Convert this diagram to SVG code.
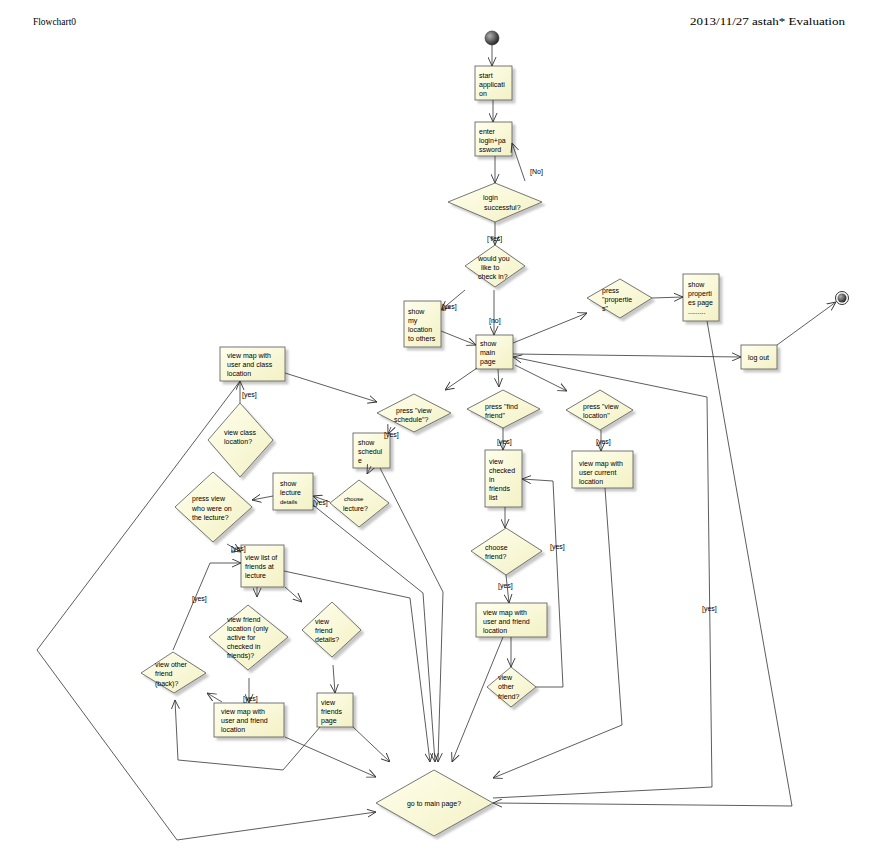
<svg xmlns="http://www.w3.org/2000/svg" width="882" height="865" viewBox="0 0 882 865">
<defs>
<linearGradient id="g" x1="0" y1="0" x2="1" y2="1">
<stop offset="0" stop-color="#ffffee"/>
<stop offset="1" stop-color="#f3f1c4"/>
</linearGradient>
<radialGradient id="sg" cx="0.35" cy="0.35" r="0.7">
<stop offset="0" stop-color="#b0b0b0"/>
<stop offset="1" stop-color="#202020"/>
</radialGradient>
<filter id="sh" x="-20%" y="-20%" width="150%" height="150%">
<feDropShadow dx="3" dy="3" stdDeviation="1" flood-color="#000" flood-opacity="0.22"/>
</filter>
<marker id="a" viewBox="0 0 10 10" refX="10" refY="5" markerWidth="9" markerHeight="9" markerUnits="userSpaceOnUse" orient="auto">
<path d="M0,0.5 L10,5 L0,9.5" fill="none" stroke="#333" stroke-width="1"/>
</marker>
</defs>
<style>
.n rect, .n polygon { fill: url(#g); stroke: #555; stroke-width: 0.8; filter: url(#sh); }
.t { font-family: "Liberation Sans", Arial, sans-serif; font-size: 7px; fill: #000; }
.s { font-size: 6px; }
.c path { fill: none; stroke: #333; stroke-width: 0.8; marker-end: url(#a); }
.h { font-family: "Liberation Serif", "Times New Roman", serif; font-size: 11px; fill: #000; }
</style>
<rect width="882" height="865" fill="#fff"/>
<text class="h" x="33" y="25" textLength="43" lengthAdjust="spacingAndGlyphs">Flowchart0</text>
<text class="h" x="690" y="25" textLength="155" lengthAdjust="spacingAndGlyphs">2013/11/27  astah* Evaluation</text>

<g id="start"><circle cx="492" cy="38" r="7" fill="url(#sg)" stroke="#333" stroke-width="0.6"/></g>
<g id="end"><circle cx="842" cy="298" r="6.5" fill="#fff" stroke="#333" stroke-width="1"/><circle cx="842" cy="298" r="4.5" fill="url(#sg)"/></g>

<g id="start-application" class="n"><rect x="475" y="66" width="37" height="34"/>
<text class="t" x="479" y="78">start</text><text class="t" x="479" y="87">applicati</text><text class="t" x="479" y="96">on</text></g>
<g id="enter-login" class="n"><rect x="475" y="122" width="37" height="34"/>
<text class="t" x="479" y="134">enter</text><text class="t" x="479" y="143">login+pa</text><text class="t" x="479" y="152">ssword</text></g>
<g id="login-successful" class="n"><polygon points="448,202 495,183 542,202 495,222"/>
<text class="t" x="483" y="200">login</text><text class="t" x="484" y="210">successful?</text></g>
<g id="check-in" class="n"><polygon points="465,266 495,245 525,266 495,287"/>
<text class="t" x="478" y="261">would you</text><text class="t" x="481" y="270">like to</text><text class="t" x="478" y="279">check in?</text></g>
<g id="show-my-location" class="n"><rect x="404" y="301" width="37" height="46"/>
<text class="t" x="408" y="314">show</text><text class="t" x="408" y="323">my</text><text class="t" x="408" y="332">location</text><text class="t" x="408" y="341">to others</text></g>
<g id="show-main-page" class="n"><rect x="476" y="335" width="37" height="34"/>
<text class="t" x="480" y="346">show</text><text class="t" x="480" y="355">main</text><text class="t" x="480" y="364">page</text></g>
<g id="press-properties" class="n"><polygon points="587,298 620,279 652,298 620,318"/>
<text class="t" x="602" y="293">press</text><text class="t" x="602" y="302">"propertie</text><text class="t" x="602" y="311">s"</text></g>
<g id="show-properties-page" class="n"><rect x="683" y="274" width="36" height="47"/>
<text class="t" x="688" y="287">show</text><text class="t" x="688" y="296">properti</text><text class="t" x="688" y="305">es page</text><text class="t" x="688" y="314">.........</text></g>
<g id="log-out" class="n"><rect x="741" y="345" width="36" height="24"/>
<text class="t" x="748" y="360">log out</text></g>
<g id="press-view-schedule" class="n"><polygon points="377,413 414,394 451,413 414,432"/>
<text class="t" x="396" y="413">press "view</text><text class="t" x="394" y="422">schedule"?</text></g>
<g id="press-find-friend" class="n"><polygon points="467,409 503,390 540,409 503,428"/>
<text class="t" x="485" y="409">press "find</text><text class="t" x="485" y="418">friend"</text></g>
<g id="press-view-location" class="n"><polygon points="566,410 600,390 633,410 600,430"/>
<text class="t" x="583" y="409">press "view</text><text class="t" x="583" y="418">location"</text></g>
<g id="view-map-current" class="n"><rect x="572" y="451" width="61" height="37"/>
<text class="t" x="579" y="466">view map with</text><text class="t" x="579" y="475">user current</text><text class="t" x="579" y="484">location</text></g>
<g id="view-checked-in" class="n"><rect x="485" y="450" width="37" height="57"/>
<text class="t" x="489" y="464">view</text><text class="t" x="489" y="473">checked</text><text class="t" x="489" y="482">in</text><text class="t" x="489" y="491">friends</text><text class="t" x="489" y="500">list</text></g>
<g id="choose-friend" class="n"><polygon points="471,551 506,528 542,551 506,575"/>
<text class="t" x="485" y="550">choose</text><text class="t" x="485" y="559">friend?</text></g>
<g id="view-map-friend-center" class="n"><rect x="476" y="603" width="71" height="34"/>
<text class="t" x="483" y="615">view map with</text><text class="t" x="483" y="624">user and friend</text><text class="t" x="483" y="633">location</text></g>
<g id="view-other-friend" class="n"><polygon points="487,687 511,667 536,687 511,707"/>
<text class="t" x="498" y="680">view</text><text class="t" x="498" y="689">other</text><text class="t" x="498" y="699">friend?</text></g>
<g id="view-map-class" class="n"><rect x="220" y="347" width="65" height="34"/>
<text class="t" x="227" y="358">view map with</text><text class="t" x="227" y="367">user and class</text><text class="t" x="227" y="376">location</text></g>
<g id="view-class-location" class="n"><polygon points="208,440 240,403 273,440 240,477"/>
<text class="t" x="224" y="435">view class</text><text class="t" x="224" y="444">location?</text></g>
<g id="show-schedule" class="n"><rect x="353" y="433" width="37" height="35"/>
<text class="t" x="358" y="445">show</text><text class="t" x="358" y="454">schedul</text><text class="t" x="358" y="463">e</text></g>
<g id="choose-lecture" class="n"><polygon points="330,503 359,480 389,503 359,527"/>
<text class="t s" x="344" y="501">choose</text><text class="t" x="343" y="511">lecture?</text></g>
<g id="show-lecture-details" class="n"><rect x="273" y="473" width="40" height="37"/>
<text class="t" x="280" y="486">show</text><text class="t" x="280" y="495">lecture</text><text class="t s" x="280" y="504">details</text></g>
<g id="press-view-who" class="n"><polygon points="175,507 213,472 252,507 213,542"/>
<text class="t" x="192" y="501">press view</text><text class="t" x="192" y="511">who were on</text><text class="t" x="192" y="520">the lecture?</text></g>
<g id="view-list-friends" class="n"><rect x="241" y="545" width="43" height="42"/>
<text class="t" x="245" y="560">view list of</text><text class="t" x="245" y="569">friends at</text><text class="t" x="245" y="578">lecture</text></g>
<g id="view-friend-location" class="n"><polygon points="209,637 248,605 288,637 248,670"/>
<text class="t" x="227" y="622">view friend</text><text class="t" x="227" y="631">location (only</text><text class="t" x="227" y="640">active for</text><text class="t" x="227" y="649">checked in</text><text class="t" x="227" y="658">friends)?</text></g>
<g id="view-friend-details" class="n"><polygon points="302,630 332,602 361,630 332,657"/>
<text class="t" x="315" y="624">view</text><text class="t" x="315" y="633">friend</text><text class="t" x="315" y="642">details?</text></g>
<g id="view-friends-page" class="n"><rect x="317" y="693" width="36" height="34"/>
<text class="t" x="321" y="705">view</text><text class="t" x="321" y="714">friends</text><text class="t" x="321" y="723">page</text></g>
<g id="view-other-friend-back" class="n"><polygon points="141,673 173,652 206,673 174,693"/>
<text class="t" x="155" y="667">view other</text><text class="t" x="155" y="676">friend</text><text class="t" x="155" y="686">(back)?</text></g>
<g id="view-map-friend-left" class="n"><rect x="214" y="703" width="70" height="34"/>
<text class="t" x="221" y="714">view map with</text><text class="t" x="221" y="723">user and friend</text><text class="t" x="221" y="732">location</text></g>
<g id="go-to-main-page" class="n"><polygon points="376,803 434,770 493,803 434,836"/>
<text class="t" x="434" y="806" text-anchor="middle">go to main page?</text></g>

<g id="connectors" class="c">
<path d="M492,45 L492,66"/>
<path d="M493,100 L493,122"/>
<path d="M495,156 L495,183"/>
<path d="M525,181 L512,143"/>
<path d="M495,222 L495,245"/>
<path d="M494,290 L494,335"/>
<path d="M465,290 L441,310"/>
<path d="M441,331 L476,345"/>
<path d="M513,343 L587,313"/>
<path d="M652,298 L683,297"/>
<path d="M513,354 L741,357"/>
<path d="M777,345 L836,302"/>
<path d="M477,368 L445,390"/>
<path d="M498,369 L499,387"/>
<path d="M515,365 L567,391"/>
<path d="M601,430 L601,451"/>
<path d="M605,488 L622,725 L493,778"/>
<path d="M493,798 L712,787 L707,397 L513,357"/>
<path d="M707,321 L792,806 L493,803"/>
<path d="M503,428 L503,450"/>
<path d="M505,507 L505,528"/>
<path d="M506,575 L509,603"/>
<path d="M511,637 L511,667"/>
<path d="M536,687 L563,687 L553,481 L522,479"/>
<path d="M503,637 L452,762"/>
<path d="M285,373 L377,402"/>
<path d="M240,381 L37,650 L177,840 L376,812"/>
<path d="M240,403 L240,381"/>
<path d="M391,427 L388,434"/>
<path d="M371,466 L367,474"/>
<path d="M380,468 L443,592 L438,762"/>
<path d="M330,502 L313,496"/>
<path d="M273,496 L252,500"/>
<path d="M313,505 L423,593 L435,762"/>
<path d="M227,544 L241,552"/>
<path d="M257,587 L257,597"/>
<path d="M285,587 L302,602"/>
<path d="M284,571 L410,598 L430,762"/>
<path d="M249,678 L249,703"/>
<path d="M222,702 L207,693"/>
<path d="M285,737 L376,777"/>
<path d="M333,665 L335,693"/>
<path d="M353,727 L390,762"/>
<path d="M320,727 L283,770 L178,760 L175,700"/>
<path d="M173,650 L210,563 L241,563"/>
<text class="t" x="530" y="174">[No]</text>
<text class="t" x="487" y="241">[Yes]</text>
<text class="t" x="489" y="323">[no]</text>
<text class="t" x="442" y="309">[yes]</text>
<text class="t" x="596" y="444">[yes]</text>
<text class="t" x="702" y="611">[yes]</text>
<text class="t" x="497" y="444">[yes]</text>
<text class="t" x="498" y="588">[yes]</text>
<text class="t" x="550" y="549">[yes]</text>
<text class="t" x="242" y="397">[yes]</text>
<text class="t" x="384" y="437">[yes]</text>
<text class="t" x="313" y="505">[yes]</text>
<text class="t" x="231" y="551">[yes]</text>
<text class="t" x="243" y="701">[yes]</text>
<text class="t" x="192" y="601">[yes]</text>
</g>
</svg>
